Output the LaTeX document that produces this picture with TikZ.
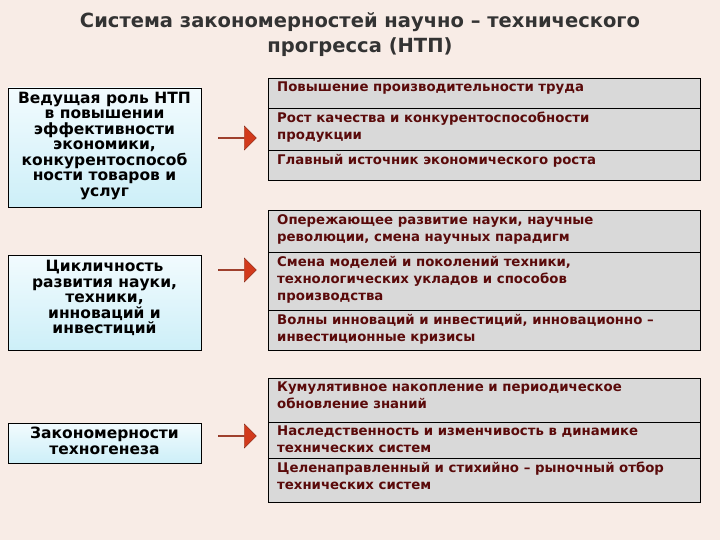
\documentclass[tikz,border=0pt]{standalone}
\usepackage{fontspec}
\setmainfont{DejaVu Sans}
\usetikzlibrary{shapes.arrows}
\definecolor{bg}{HTML}{F8ECE6}
\definecolor{gbox}{HTML}{D9D9D9}
\definecolor{rtext}{HTML}{5A0A0A}
\definecolor{cyanA}{HTML}{CDEFF8}
\definecolor{cyanB}{HTML}{F2FBFE}
\definecolor{arr}{HTML}{D23A1C}
\tikzset{
  rbox/.style={draw=black, fill=gbox, line width=0.8pt},
  rtxt/.style={anchor=north west, text=rtext, font=\bfseries\fontsize{13.3}{17}\selectfont, align=left, inner sep=0pt},
  lbox/.style={draw=black, line width=0.8pt, top color=cyanB, bottom color=cyanA},
  ltxt/.style={text=black, font=\bfseries\fontsize{15.5}{15.5}\selectfont, align=center, inner sep=0pt},
  bigarr/.style={single arrow, draw=arr!60!black, fill=arr, minimum width=24pt, single arrow head extend=4pt, minimum height=38pt, inner sep=0pt}
}
\begin{document}
\begin{tikzpicture}[x=1pt,y=-1pt]
\fill[bg] (0,0) rectangle (720,540);
\useasboundingbox (0,0) rectangle (720,540);
\node[font=\bfseries\fontsize{19.5}{25}\selectfont, text=black!80, align=center] (title) at (360,35) {Система закономерностей научно – технического\\прогресса (НТП)};
% right boxes
\foreach \n/\a/\b/\t in {
 r1/78/108/{Повышение производительности труда},
 r2/108/150/{Рост качества и конкурентоспособности\\продукции},
 r3/150/180/{Главный источник экономического роста},
 r4/210/252/{Опережающее развитие науки, научные\\революции, смена научных парадигм},
 r5/252/310/{Смена моделей и поколений техники,\\технологических укладов и способов\\производства},
 r6/310/350/{Волны инноваций и инвестиций, инновационно –\\инвестиционные кризисы},
 r7/378/422/{Кумулятивное накопление и периодическое\\обновление знаний},
 r8/422/458/{Наследственность и изменчивость в динамике\\технических систем},
 r9/458/502/{Целенаправленный и стихийно – рыночный отбор\\технических систем}}{
  \draw[rbox] (268,\a) rectangle (700,\b);
  \node[rtxt] (\n) at (277,\a+4) {\t};
}
% left boxes
\draw[lbox] (8,88) rectangle (201,207);
\node[ltxt] (l1) at (104.5,146) {Ведущая роль НТП\\в повышении\\эффективности\\экономики,\\конкурентоспособ\\ности товаров и\\услуг};
\draw[lbox] (8,255) rectangle (201,350);
\node[ltxt] (l2) at (104.5,298) {Цикличность\\развития науки,\\техники,\\инноваций и\\инвестиций};
\draw[lbox] (8,423) rectangle (201,463);
\node[ltxt] (l3) at (104.5,441) {Закономерности\\техногенеза};
% arrows
\node[bigarr] (a1) at (237,138) {};
\node[bigarr] (a2) at (237,270) {};
\node[bigarr] (a3) at (237,436) {};
\end{tikzpicture}
\end{document}
